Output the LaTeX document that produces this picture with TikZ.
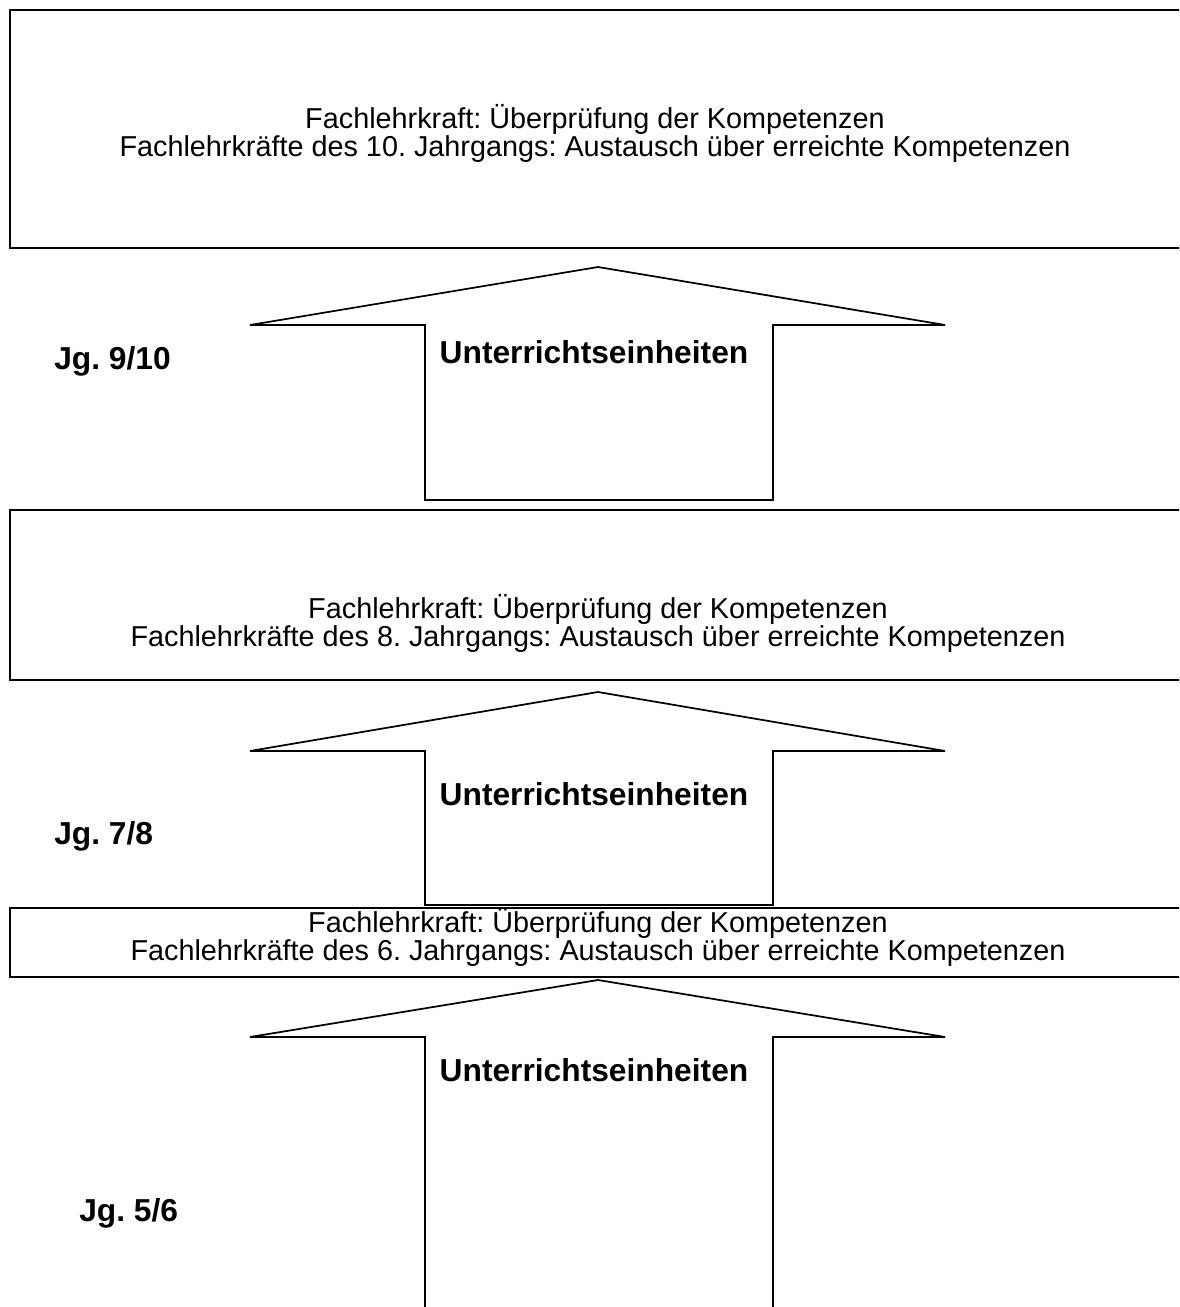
\documentclass[tikz,border=0pt]{standalone}
\usepackage{fontspec}
\setmainfont{Liberation Sans}
\frenchspacing

\tikzset{
    rahmen/.style={draw, line width=1.5pt},
    pfeil/.style={draw, line width=1.3pt, line join=miter},
    fachtext/.style={align=center, font=\fontsize{21.6pt}{21pt}\selectfont, inner sep=0pt},
    einheit/.style={font=\bfseries\fontsize{23.8pt}{26pt}\selectfont, inner sep=0pt},
    jahrgang/.style={anchor=west, font=\bfseries\fontsize{23.8pt}{26pt}\selectfont, inner sep=0pt},
}

\begin{document}
\begin{tikzpicture}[x=0.75pt, y=-0.75pt]
    \useasboundingbox (0,0) rectangle (1179,1307);
    \clip (0,0) rectangle (1179,1307);

    % boxes (right edge runs off the page)
    \draw[rahmen] (1200,10) -- (10,10) -- (10,248) -- (1200,248);
    \draw[rahmen] (1200,510) -- (10,510) -- (10,680) -- (1200,680);
    \draw[rahmen] (1200,908) -- (10,908) -- (10,977) -- (1200,977);

    % box texts
    \node[fachtext] (fach10) at (595,133) {Fachlehrkraft: Überprüfung der Kompetenzen\\Fachlehrkräfte des 10. Jahrgangs: Austausch über erreichte Kompetenzen};
    \node[fachtext] (fach8) at (598,623) {Fachlehrkraft: Überprüfung der Kompetenzen\\Fachlehrkräfte des 8. Jahrgangs: Austausch über erreichte Kompetenzen};
    \node[fachtext] (fach6) at (598,937) {Fachlehrkraft: Überprüfung der Kompetenzen\\Fachlehrkräfte des 6. Jahrgangs: Austausch über erreichte Kompetenzen};

    % block arrows
    \draw[pfeil] (425,500) -- (425,325) -- (250,325) -- (598,267) -- (945,325) -- (773,325) -- (773,500) -- cycle;
    \draw[pfeil] (425,905) -- (425,751) -- (250,751) -- (598,692) -- (945,751) -- (773,751) -- (773,905) -- cycle;
    \draw[pfeil] (425,1330) -- (425,1037) -- (250,1037) -- (598,980) -- (945,1037) -- (773,1037) -- (773,1330);

    % arrow labels
    \node[einheit] (einheit1) at (594,352) {Unterrichtseinheiten};
    \node[einheit] (einheit2) at (594,794) {Unterrichtseinheiten};
    \node[einheit] (einheit3) at (594,1070) {Unterrichtseinheiten};

    % year groups
    \node[jahrgang] (jg910) at (54,361) {Jg. 9/10};
    \node[jahrgang] (jg78) at (54,836) {Jg. 7/8};
    \node[jahrgang] (jg56) at (79,1213) {Jg. 5/6};
\end{tikzpicture}
\end{document}
